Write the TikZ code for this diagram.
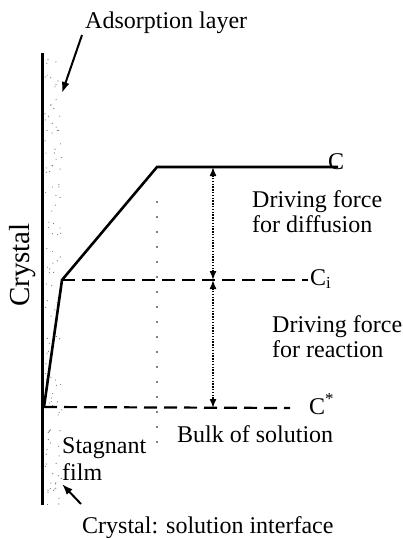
\documentclass[tikz,border=0pt]{standalone}
\usepackage{fontspec}
\setmainfont{Liberation Serif}
\usetikzlibrary{arrows.meta}
\begin{document}
\begin{tikzpicture}[x=1pt,y=-1pt,
  lbl/.style={anchor=base west,inner sep=0pt,font=\fontsize{24}{28}\selectfont},
  profile/.style={line width=2.6pt,line join=miter},
  dashline/.style={line width=2.2pt,dash pattern=on 13pt off 7pt},
  dotarrow/.style={line width=1.5pt,dash pattern=on 1.4pt off 1.4pt,{Latex[length=9pt,width=7pt]}-{Latex[length=9pt,width=7pt]}},
  pointer/.style={line width=2pt,-{Latex[length=11pt,width=8pt]}},
  stip/.style={fill=black!55}]
\useasboundingbox (0,0) rectangle (403,538);
% stipple (adsorption layer)
\pgfmathsetseed{7}
\foreach \i in {1,...,120}{
  \pgfmathsetmacro\xx{45+17*rnd}
  \pgfmathsetmacro\yy{55+450*rnd}
  \fill[stip] (\xx,\yy) circle (0.6pt);
}
% crystal surface
\coordinate (ctop) at (42,53);
\coordinate (cbot) at (42,505);
\draw[line width=3pt] (ctop) -- (cbot);
\node[anchor=center,inner sep=0pt,rotate=90,font=\fontsize{29}{32}\selectfont] (crys) at (23,265) {Crystal};
% labels
\node[lbl] (ads) at (85,28) {Adsorption layer};
\coordinate (adstip) at (62,93);
\draw[pointer] (82,35) -- (adstip);
% profile
\coordinate (p0) at (44,407);
\coordinate (p1) at (62,280);
\coordinate (p2) at (157,167);
\coordinate (p3) at (338,167);
\draw[profile] (p0) -- (p1) -- (p2) -- (p3);
\node[lbl] (C) at (328,169) {C};
% Ci dashed
\coordinate (ciend) at (308,280);
\draw[dashline] (p1) -- (ciend);
\node[lbl] (Ci) at (310,285) {C\textsubscript{i}};
% C* dashed
\coordinate (csend) at (290,408);
\draw[dashline] (p0) -- (csend);
\node[lbl] (Cs) at (309,414) {C\textsuperscript{*}};
% film boundary (sparse dots)
\foreach \yy in {202,217,...,450}{
  \fill (157,\yy) circle (0.8pt);
}
% driving-force arrows
\coordinate (a1) at (213,167);
\coordinate (a2) at (213,280);
\coordinate (a3) at (213,408);
\draw[dotarrow] (a1) -- (a2);
\draw[dotarrow] (a2) -- (a3);
\node[lbl] (df1) at (252,207) {Driving force};
\node[lbl] (df2) at (252,232) {for diffusion};
\node[lbl] (dr1) at (272,332) {Driving force};
\node[lbl] (dr2) at (272,357) {for reaction};
\node[lbl] (bulk) at (177,442) {Bulk of solution};
\node[lbl] (st1) at (62,453) {Stagnant};
\node[lbl] (st2) at (62,480) {film};
\coordinate (sttip) at (62,484);
\draw[pointer] (81,504) -- (sttip);
\node[lbl] (iface) at (82,533) {Crystal: solution interface};
\end{tikzpicture}
\end{document}
